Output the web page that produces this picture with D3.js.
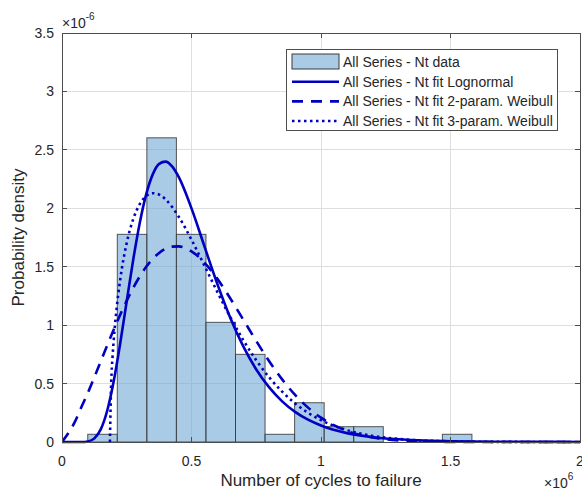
<!DOCTYPE html>
<html>
<head>
<meta charset="utf-8">
<script src="https://cdn.jsdelivr.net/npm/d3@7/dist/d3.min.js"></script>
<style>
  body { margin: 0; background: #fff; }
  text { font-family: "Liberation Sans", Arial, Helvetica, sans-serif; fill: #262626; }
</style>
</head>
<body>
<svg id="chart" width="582" height="491"></svg>
<script>
// Histogram of cycles to failure (x in 1e6 cycles, density in 1e-6)
const binEdges = [0.0994, 0.2135, 0.3276, 0.4417, 0.5558, 0.6699, 0.7840, 0.8981,
                  1.0122, 1.1263, 1.2404, 1.3545, 1.4686, 1.5827];
const binDensity = [0.066, 1.777, 2.603, 1.777, 1.024, 0.750, 0.066, 0.336,
                    0.131, 0.131, 0, 0, 0.066];

// Fitted density curves
const fitX = [0, 0.05, 0.075, 0.1, 0.125, 0.15, 0.175, 0.2, 0.225, 0.25, 0.275, 0.3,
              0.325, 0.35, 0.375, 0.4, 0.425, 0.45, 0.5, 0.55, 0.6, 0.65, 0.7, 0.75,
              0.8, 0.85, 0.9, 0.95, 1.0, 1.1, 1.2, 1.3, 1.4, 1.5, 1.7, 2.0];
const lognormalY = [0, 0, 0.0002, 0.005, 0.031, 0.110, 0.272, 0.524, 0.847, 1.207, 1.560, 1.872,
                    2.119, 2.288, 2.380, 2.399, 2.358, 2.270, 1.999, 1.674, 1.351, 1.062, 0.818, 0.621,
                    0.467, 0.348, 0.258, 0.191, 0.141, 0.076, 0.041, 0.023, 0.012, 0.007, 0.002, 0.0006];
const weibull2Y = [0, 0.174, 0.30, 0.421, 0.555, 0.692, 0.829, 0.963, 1.090, 1.210, 1.319, 1.416,
                   1.499, 1.567, 1.618, 1.654, 1.672, 1.674, 1.632, 1.535, 1.396, 1.228, 1.047, 0.864,
                   0.691, 0.536, 0.403, 0.294, 0.208, 0.095, 0.038, 0.013, 0.004, 0.001, 0, 0];
const weibull3X = [0.185, 0.19, 0.195, 0.2, 0.21, 0.225, 0.25, 0.275, 0.3, 0.325, 0.35, 0.375,
                   0.4, 0.45, 0.5, 0.55, 0.6, 0.65, 0.7, 0.75, 0.8, 0.85, 0.9, 0.95, 1.0,
                   1.1, 1.2, 1.3, 1.4, 1.5, 1.7, 2.0];
const weibull3Y = [0, 0.511, 0.721, 0.880, 1.124, 1.394, 1.705, 1.907, 2.035, 2.105, 2.129, 2.117,
                   2.076, 1.930, 1.731, 1.509, 1.283, 1.068, 0.872, 0.700, 0.553, 0.431, 0.330, 0.250, 0.187,
                   0.101, 0.052, 0.026, 0.012, 0.006, 0.001, 0];

const xTicks = [0, 0.5, 1, 1.5, 2];
const yTicks = [0, 0.5, 1, 1.5, 2, 2.5, 3, 3.5];
const legendLabels = ["All Series - Nt data", "All Series - Nt fit Lognormal",
                      "All Series - Nt fit 2-param. Weibull", "All Series - Nt fit 3-param. Weibull"];

const W = 582, H = 491;
const plot = { left: 62, right: 580, top: 33, bottom: 442 };
const lineColor = "#0000c0";

const svg = d3.select("#chart");
const x = d3.scaleLinear().domain([0, 2]).range([plot.left, plot.right]);
const y = d3.scaleLinear().domain([0, 3.5]).range([plot.bottom, plot.top]);

// grid
const grid = svg.append("g").attr("shape-rendering", "crispEdges");
grid.selectAll("line.gx").data(xTicks).join("line")
  .attr("x1", d => x(d)).attr("x2", d => x(d))
  .attr("y1", plot.top).attr("y2", plot.bottom)
  .attr("stroke", "#dedede").attr("stroke-width", 1);
grid.selectAll("line.gy").data(yTicks).join("line")
  .attr("x1", plot.left).attr("x2", plot.right)
  .attr("y1", d => y(d)).attr("y2", d => y(d))
  .attr("stroke", "#dedede").attr("stroke-width", 1);

// histogram bars
const bins = binDensity.map((v, i) => ({ x0: binEdges[i], x1: binEdges[i + 1], v }));
svg.append("g").selectAll("rect").data(bins.filter(b => b.v > 0)).join("rect")
  .attr("x", d => x(d.x0)).attr("width", d => x(d.x1) - x(d.x0))
  .attr("y", d => y(d.v)).attr("height", d => y(0) - y(d.v))
  .attr("fill", "rgb(113,168,213)").attr("fill-opacity", 0.6)
  .attr("stroke", "#3a3a3a").attr("stroke-opacity", 0.85).attr("stroke-width", 1);

// fitted curves
const line = d3.line().x(d => x(d[0])).y(d => y(d[1])).curve(d3.curveMonotoneX);
const clip = svg.append("clipPath").attr("id", "plotclip").append("rect")
  .attr("x", plot.left).attr("y", plot.top - 2)
  .attr("width", plot.right - plot.left).attr("height", plot.bottom - plot.top + 4);
const curves = svg.append("g").attr("clip-path", "url(#plotclip)");
const series = [
  { pts: fitX.map((v, i) => [v, lognormalY[i]]), dash: null },
  { pts: fitX.map((v, i) => [v, weibull2Y[i]]), dash: "11,8" },
  { pts: weibull3X.map((v, i) => [v, weibull3Y[i]]), dash: "2.5,3.5" }
];
series.forEach(s => {
  curves.append("path").attr("d", line(s.pts))
    .attr("fill", "none").attr("stroke", lineColor).attr("stroke-width", 2.6)
    .attr("stroke-dasharray", s.dash);
});

// axes box and ticks
const axes = svg.append("g").attr("shape-rendering", "crispEdges");
axes.append("rect").attr("x", plot.left).attr("y", plot.top)
  .attr("width", plot.right - plot.left).attr("height", plot.bottom - plot.top)
  .attr("fill", "none").attr("stroke", "#4d4d4d").attr("stroke-width", 1);
const tl = 5;
xTicks.forEach(t => {
  axes.append("line").attr("x1", x(t)).attr("x2", x(t)).attr("y1", plot.bottom).attr("y2", plot.bottom - tl).attr("stroke", "#4d4d4d");
  axes.append("line").attr("x1", x(t)).attr("x2", x(t)).attr("y1", plot.top).attr("y2", plot.top + tl).attr("stroke", "#4d4d4d");
});
yTicks.forEach(t => {
  axes.append("line").attr("x1", plot.left).attr("x2", plot.left + tl).attr("y1", y(t)).attr("y2", y(t)).attr("stroke", "#4d4d4d");
  axes.append("line").attr("x1", plot.right).attr("x2", plot.right - tl).attr("y1", y(t)).attr("y2", y(t)).attr("stroke", "#4d4d4d");
});

const fmt = d => String(d);
svg.append("g").selectAll("text").data(xTicks).join("text")
  .attr("x", d => x(d)).attr("y", 465.5).attr("text-anchor", "middle")
  .attr("font-size", 14).text(fmt);
svg.append("g").selectAll("text").data(yTicks).join("text")
  .attr("x", 54).attr("y", d => y(d) + 5).attr("text-anchor", "end")
  .attr("font-size", 14).text(fmt);

// exponent multipliers
const ey = svg.append("text").attr("x", 62).attr("y", 28).attr("font-size", 14);
ey.append("tspan").text("\u00d710");
ey.append("tspan").attr("dy", -8).attr("font-size", 10).text("-6");
const ex = svg.append("text").attr("x", 544).attr("y", 488).attr("font-size", 14);
ex.append("tspan").text("\u00d710");
ex.append("tspan").attr("dy", -8).attr("font-size", 10).text("6");

// axis titles
svg.append("text").attr("x", 321).attr("y", 486).attr("text-anchor", "middle")
  .attr("font-size", 17).text("Number of cycles to failure");
svg.append("text").attr("transform", `translate(24,${(plot.top + plot.bottom) / 2}) rotate(-90)`)
  .attr("text-anchor", "middle").attr("font-size", 17).text("Probability density");

// legend
const lg = svg.append("g");
lg.append("rect").attr("x", 286.5).attr("y", 49.5).attr("width", 271).attr("height", 81)
  .attr("fill", "#fff").attr("stroke", "#4d4d4d").attr("stroke-width", 1).attr("shape-rendering", "crispEdges");
const rowY = [62, 81.7, 101.4, 121];
lg.append("rect").attr("x", 292).attr("y", rowY[0] - 8).attr("width", 47).attr("height", 15)
  .attr("fill", "rgb(113,168,213)").attr("fill-opacity", 0.6)
  .attr("stroke", "#3a3a3a").attr("stroke-width", 1);
[null, "11,8", "2.5,3.5"].forEach((dash, i) => {
  lg.append("line").attr("x1", 292).attr("x2", 339).attr("y1", rowY[i + 1]).attr("y2", rowY[i + 1])
    .attr("stroke", lineColor).attr("stroke-width", 2.6).attr("stroke-dasharray", dash);
});
lg.selectAll("text").data(legendLabels).join("text")
  .attr("x", 343).attr("y", (d, i) => rowY[i] + 5).attr("font-size", 14).text(d => d);
</script>
</body>
</html>
